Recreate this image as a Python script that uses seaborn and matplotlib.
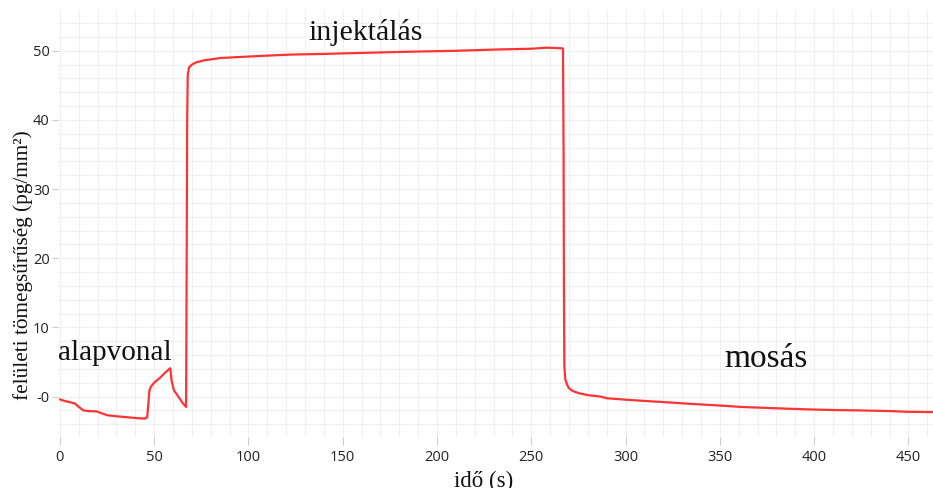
import matplotlib
matplotlib.use("Agg")
import matplotlib.pyplot as plt
from matplotlib.ticker import MultipleLocator, FixedLocator
import pandas as pd
import seaborn as sns

# Measured surface mass density over time (baseline, injection, washing)
time_s = [0, 2, 5, 8, 10, 12.5, 15, 19.5, 22, 25, 30, 34, 40, 45, 46.3,
          47.5, 48.2, 50, 53, 56, 58.5, 59.3, 60.5, 62.8, 65, 66.9,
          67.1, 67.3, 67.5, 67.8, 68.5, 70, 72, 76, 85, 95, 106, 122, 140,
          154, 175, 191, 210, 233, 250, 258, 263, 266.8,
          267.1, 267.3, 267.5, 268, 269, 270, 272, 275, 280, 286.6, 290,
          300, 308, 320, 334, 350, 361, 380, 396, 410, 423, 440, 449, 463]
density = [-0.4, -0.6, -0.8, -1.0, -1.5, -2.0, -2.1, -2.15, -2.4, -2.7, -2.85,
           -2.95, -3.1, -3.2, -3.0,
           0.9, 1.4, 2.0, 2.7, 3.5, 4.1, 2.2, 0.9, 0.0, -0.9, -1.5,
           10.0, 25.0, 40.0, 46.5, 47.6, 48.0, 48.3, 48.6, 48.95, 49.1, 49.25,
           49.45, 49.55,
           49.65, 49.8, 49.9, 50.0, 50.2, 50.3, 50.45, 50.4, 50.35,
           35.0, 15.0, 4.5, 2.5, 1.7, 1.2, 0.8, 0.5, 0.2, 0.0, -0.25,
           -0.45, -0.6, -0.8, -1.05, -1.3, -1.5, -1.7, -1.85, -1.95, -2.0,
           -2.1, -2.2, -2.25]

x_ticks = [0, 50, 100, 150, 200, 250, 300, 350, 400, 450]
y_ticks = [0, 10, 20, 30, 40, 50]
y_tick_labels = ["-0", "10", "20", "30", "40", "50"]

phase_labels = ["alapvonal", "injektálás", "mosás"]
phase_x = [29.2, 161.9, 374.2]
phase_y = [5.27, 51.5, 4.3]
phase_size = [21, 21.5, 24]

x_title = "idő (s)"
y_title = "felületi tömegsűrűség (pg/mm²)"

sns.set_theme(style="white")
plt.rcParams["font.family"] = ["Open Sans", "DejaVu Sans"]

df = pd.DataFrame({"t": time_s, "m": density})

fig = plt.figure(figsize=(9.33, 4.88), dpi=100)
ax = fig.add_axes([58 / 933, 1 - 437 / 488, 875 / 933, 427 / 488])

sns.lineplot(data=df, x="t", y="m", ax=ax, color="#ff3333", linewidth=1.6,
             estimator=None, sort=False)

ax.set_xlim(-1, 463)
ax.set_ylim(-5.85, 55.9)

ax.xaxis.set_major_locator(FixedLocator(x_ticks))
ax.yaxis.set_major_locator(FixedLocator(y_ticks))
ax.set_yticklabels(y_tick_labels)
ax.xaxis.set_minor_locator(MultipleLocator(10))
ax.yaxis.set_minor_locator(MultipleLocator(2))
ax.grid(which="both", color="#f0f0f0", linewidth=0.9)
ax.set_axisbelow(True)
for s in ax.spines.values():
    s.set_visible(False)

ax.tick_params(axis="x", which="major", bottom=True, length=5.5, width=0.8,
               color="#cccccc", pad=4, labelsize=10.5, labelcolor="#222222")
ax.tick_params(axis="y", which="major", left=True, length=4, width=0.8,
               color="#cccccc", pad=2, labelsize=10.5, labelcolor="#222222")
ax.tick_params(which="minor", length=0)

serif = ["Liberation Serif", "DejaVu Serif"]
ax.set_xlabel(x_title, family=serif, fontsize=16.5, color="#111111", va="top")
ax.xaxis.set_label_coords(0.486, -0.08)
ax.set_ylabel(y_title, family=serif, fontsize=15.3, color="#111111", va="center")
ax.yaxis.set_label_coords(-0.04, 0.403)

for lab, px, py, fs in zip(phase_labels, phase_x, phase_y, phase_size):
    ax.text(px, py, lab, family=serif, fontsize=fs, color="#111111",
            ha="center", va="baseline")

fig.savefig("out.png", dpi=100)
